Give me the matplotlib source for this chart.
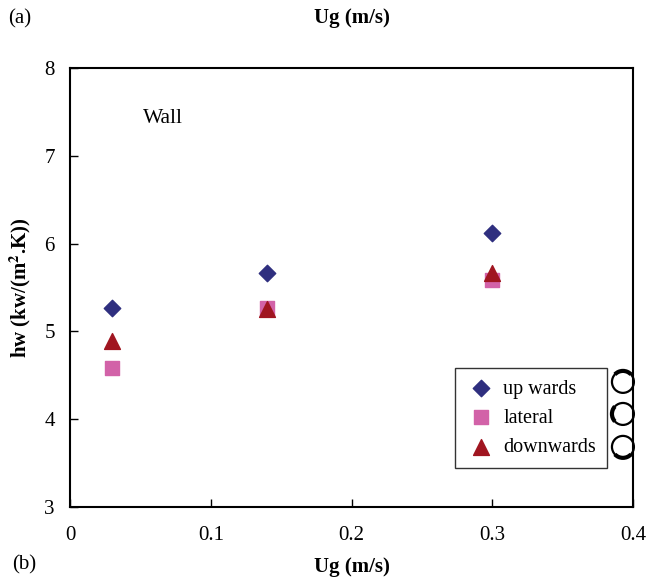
import matplotlib.pyplot as plt
from matplotlib.patches import Ellipse, Arc

plt.rcParams['font.family'] = ['Liberation Serif', 'DejaVu Serif']
plt.rcParams['mathtext.fontset'] = 'stix'

ug = [0.03, 0.14, 0.30]
up_wards = [5.27, 5.67, 6.12]
lateral = [4.58, 5.27, 5.59]
downwards = [4.89, 5.26, 5.67]
x_ticks = [0, 0.1, 0.2, 0.3, 0.4]
x_labels = ['0', '0.1', '0.2', '0.3', '0.4']
y_ticks = [3, 4, 5, 6, 7, 8]

fig = plt.figure(figsize=(6.54, 5.78), dpi=100)
ax = fig.add_axes([0.107, 0.1228, 0.861, 0.7596])

ax.scatter(ug, up_wards, marker='D', s=70, color='#2f2f7f', label='up wards', zorder=3)
ax.scatter(ug, lateral, marker='s', s=110, color='#d262a8', label='lateral', zorder=3)
ax.scatter(ug, downwards, marker='^', s=130, color='#a01520', label='downwards', zorder=4)

ax.set_xlim(0, 0.4)
ax.set_ylim(3, 8)
ax.set_xticks(x_ticks)
ax.set_xticklabels(x_labels)
ax.set_yticks(y_ticks)
ax.tick_params(direction='in', length=6, width=1, labelsize=15)
ax.tick_params(axis='x', pad=14)
ax.tick_params(axis='y', pad=11)
for s in ax.spines.values():
    s.set_linewidth(1.5)

ax.set_xlabel('Ug (m/s)', fontsize=15, fontweight='bold', labelpad=8)
ax.set_ylabel(r'hw (kw/(m$^\mathbf{2}$.K))', fontsize=15, fontweight='bold', labelpad=8)

ax.text(0.052, 7.43, 'Wall', fontsize=15.5, va='center')

fig.text(0.012, 0.968, '(a)', fontsize=15, va='center')
fig.text(0.538, 0.968, 'Ug (m/s)', fontsize=15, fontweight='bold', va='center', ha='center')
fig.text(0.018, 0.022, '(b)', fontsize=15, va='center')

leg = ax.legend(loc='lower right', bbox_to_anchor=(0.954, 0.089), borderaxespad=0,
                frameon=True, fancybox=False, edgecolor='black', fontsize=14.5,
                borderpad=0.55, labelspacing=0.5, handletextpad=0.35,
                handlelength=1.5, scatterpoints=1)
leg.get_frame().set_linewidth(1.0)

# small circles beside the legend
w, h = 0.039, 0.039 * 563 / 439
for yc, th1, th2 in [(0.285, 50, 130), (0.212, 130, 230), (0.137, 230, 310)]:
    ax.add_patch(Ellipse((0.982, yc), w, h, transform=ax.transAxes, fill=False,
                         lw=1.6, ec='black', clip_on=False))
    ax.add_patch(Arc((0.982, yc), w, h, theta1=th1, theta2=th2,
                     transform=ax.transAxes, lw=3, ec='black', clip_on=False))

fig.savefig('out.png', dpi=100)
